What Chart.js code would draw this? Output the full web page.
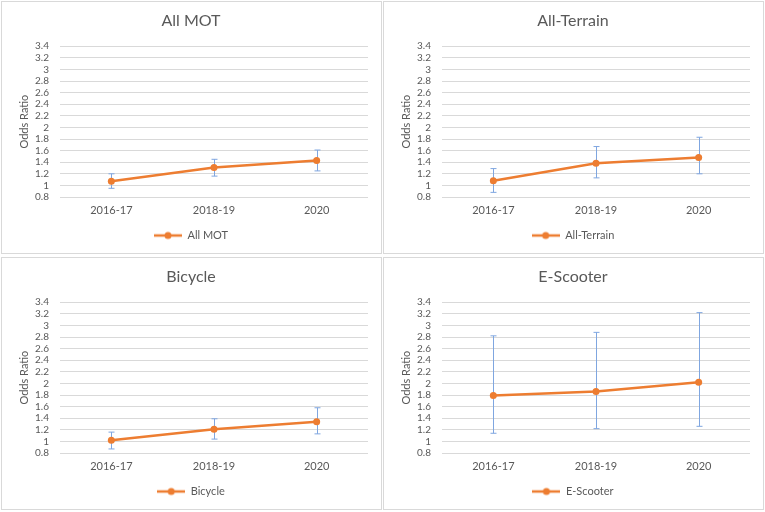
<!DOCTYPE html>
<html lang="en">
<head>
<meta charset="UTF-8">
<title>Odds Ratio by mode</title>
<script src="https://cdn.jsdelivr.net/npm/chart.js"></script>
<style>
  body { margin: 0; background: #fff; }
  .panel { position: absolute; width: 381px; height: 253px; border: 1px solid #d9d9d9; box-sizing: border-box; }
  .panel canvas { display: block; }
</style>
</head>
<body>
<div class="panel" style="left:1px;top:1px"><canvas id="c0" width="379" height="251"></canvas></div>
<div class="panel" style="left:383px;top:1px"><canvas id="c1" width="379" height="251"></canvas></div>
<div class="panel" style="left:1px;top:257px"><canvas id="c2" width="379" height="251"></canvas></div>
<div class="panel" style="left:383px;top:257px"><canvas id="c3" width="379" height="251"></canvas></div>

<script>
// data
const periods = ['2016-17', '2018-19', '2020'];
const yTickLabels = ['0.8', '1', '1.2', '1.4', '1.6', '1.8', '2', '2.2', '2.4', '2.6', '2.8', '3', '3.2', '3.4'];

const modes = ['All MOT', 'All-Terrain', 'Bicycle', 'E-Scooter'];

const allMot = [1.07, 1.31, 1.43];
const allMotLow = [0.95, 1.16, 1.25];
const allMotHigh = [1.20, 1.45, 1.61];

const allTerrain = [1.08, 1.38, 1.48];
const allTerrainLow = [0.88, 1.13, 1.20];
const allTerrainHigh = [1.29, 1.67, 1.83];

const bicycle = [1.02, 1.21, 1.34];
const bicycleLow = [0.87, 1.04, 1.13];
const bicycleHigh = [1.16, 1.39, 1.58];

const eScooter = [1.79, 1.86, 2.02];
const eScooterLow = [1.14, 1.22, 1.26];
const eScooterHigh = [2.82, 2.88, 3.22];

const series = [
    [allMot, allMotLow, allMotHigh],
    [allTerrain, allTerrainLow, allTerrainHigh],
    [bicycle, bicycleLow, bicycleHigh],
    [eScooter, eScooterLow, eScooterHigh]
];

const orange = '#ED7D31';
const textColor = '#595959';
const font = 'Lato, "Open Sans", sans-serif';

// legend symbol: short line with a dot
const legendIcon = document.createElement('canvas');
legendIcon.width = 28;
legendIcon.height = 10;
(function () {
    const g = legendIcon.getContext('2d');
    g.strokeStyle = orange;
    g.lineWidth = 2.5;
    g.beginPath();
    g.moveTo(0, 5);
    g.lineTo(28, 5);
    g.stroke();
    g.fillStyle = orange;
    g.beginPath();
    g.arc(14, 5, 3.5, 0, Math.PI * 2);
    g.fill();
})();

// error bars drawn from the dataset's low/high arrays
const errorBars = {
    id: 'errorBars',
    beforeDatasetsDraw(chart) {
        const ds = chart.data.datasets[0];
        const meta = chart.getDatasetMeta(0);
        const yScale = chart.scales.y;
        const ctx = chart.ctx;
        ctx.save();
        ctx.strokeStyle = '#7FA6E0';
        ctx.lineWidth = 1;
        meta.data.forEach((pt, i) => {
            const x = Math.round(pt.x) + 0.5;
            const yl = yScale.getPixelForValue(ds.low[i]);
            const yh = yScale.getPixelForValue(ds.high[i]);
            ctx.beginPath();
            ctx.moveTo(x, yh);
            ctx.lineTo(x, yl);
            ctx.moveTo(x - 3, yh);
            ctx.lineTo(x + 3, yh);
            ctx.moveTo(x - 3, yl);
            ctx.lineTo(x + 3, yl);
            ctx.stroke();
        });
        ctx.restore();
    }
};

function tickLabel(v) {
    const hit = yTickLabels.find(l => Math.abs(Number(l) - v) < 1e-6);
    return hit === undefined ? '' : hit;
}

function makeChart(id, name, vals, low, high) {
    const ctx = document.getElementById(id).getContext('2d');
    return new Chart(ctx, {
        type: 'line',
        data: {
            labels: periods,
            datasets: [{
                label: name,
                data: vals,
                low: low,
                high: high,
                borderColor: orange,
                backgroundColor: orange,
                borderWidth: 2.5,
                pointRadius: 3.5,
                pointBackgroundColor: orange,
                pointBorderWidth: 0,
                tension: 0,
                fill: false
            }]
        },
        plugins: [errorBars],
        options: {
            responsive: false,
            animation: false,
            layout: { padding: { left: 12, right: 13, top: 0, bottom: 2 } },
            plugins: {
                title: {
                    display: true,
                    text: name,
                    color: textColor,
                    font: { family: font, size: 16, weight: 'normal' },
                    padding: { top: 9, bottom: 16 }
                },
                legend: {
                    position: 'bottom',
                    labels: {
                        color: textColor,
                        font: { family: font, size: 11 },
                        usePointStyle: true,
                        pointStyle: legendIcon,
                        pointStyleWidth: 28,
                        padding: 8
                    }
                },
                tooltip: { enabled: false }
            },
            scales: {
                x: {
                    offset: true,
                    afterFit(scale) { scale.height = 25; },
                    grid: { display: false, drawTicks: false },
                    border: { display: false },
                    ticks: { color: textColor, font: { family: font, size: 11 }, padding: 7 }
                },
                y: {
                    min: 0.8,
                    max: 3.4,
                    afterFit(scale) { scale.width = 46; },
                    grid: { color: '#d9d9d9', drawTicks: false },
                    border: { display: false },
                    title: {
                        display: true,
                        text: 'Odds Ratio',
                        color: textColor,
                        font: { family: font, size: 11 },
                        padding: { top: 4, bottom: 4 }
                    },
                    ticks: {
                        stepSize: 0.2,
                        autoSkip: false,
                        color: textColor,
                        font: { family: font, size: 10 },
                        padding: 11,
                        callback: v => tickLabel(v)
                    }
                }
            }
        }
    });
}

modes.forEach((m, k) => {
    makeChart('c' + k, m, series[k][0], series[k][1], series[k][2]);
});
</script>
</body>
</html>
